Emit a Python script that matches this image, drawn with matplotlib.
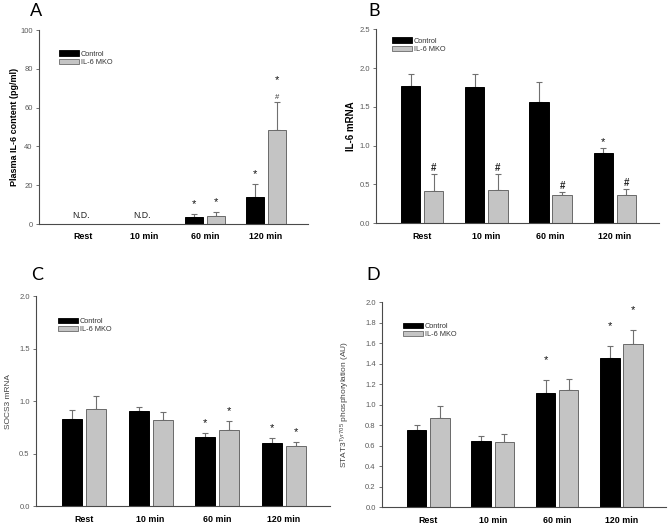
import numpy as np
import matplotlib
matplotlib.use("Agg")
import matplotlib.pyplot as plt
from matplotlib.patches import Patch

plt.rcParams['font.family'] = ['Liberation Sans', 'DejaVu Sans']
plt.rcParams['mathtext.default'] = 'regular'

categories = ["Rest", "10 min", "60 min", "120 min"]
series_names = ["Control", "IL-6 MKO"]

# Panel A: plasma IL-6 (pg/ml); NaN = not detected
a_ctrl = [np.nan, np.nan, 3.8, 14.1]
a_ctrl_se = [np.nan, np.nan, 1.4, 6.7]
a_mko = [np.nan, np.nan, 4.3, 48.6]
a_mko_se = [np.nan, np.nan, 2.1, 14.4]
a_ctrl_sig = ["", "", "*", "*"]
a_mko_sig = ["", "", "*", "#*"]

# Panel B: IL-6 mRNA
b_ctrl = [1.77, 1.76, 1.565, 0.90]
b_ctrl_se = [0.16, 0.17, 0.26, 0.075]
b_mko = [0.41, 0.43, 0.37, 0.37]
b_mko_se = [0.23, 0.21, 0.03, 0.07]
b_ctrl_sig = ["", "", "", "*"]
b_mko_sig = ["#", "#", "#", "#"]

# Panel C: SOCS3 mRNA
c_ctrl = [0.83, 0.905, 0.66, 0.60]
c_ctrl_se = [0.09, 0.045, 0.035, 0.048]
c_mko = [0.93, 0.82, 0.727, 0.575]
c_mko_se = [0.12, 0.075, 0.083, 0.035]
c_ctrl_sig = ["", "", "*", "*"]
c_mko_sig = ["", "", "*", "*"]

# Panel D: STAT3 Tyr705 phosphorylation (AU)
d_ctrl = [0.751, 0.647, 1.119, 1.46]
d_ctrl_se = [0.049, 0.053, 0.12, 0.111]
d_mko = [0.868, 0.634, 1.141, 1.593]
d_mko_se = [0.117, 0.078, 0.108, 0.134]
d_ctrl_sig = ["", "", "*", "*"]
d_mko_sig = ["", "", "", "*"]

fig = plt.figure(figsize=(6.7, 5.26), dpi=100)

CTRL_COLOR = "black"
MKO_COLOR = "#c4c4c4"
EDGE_GREY = "#6a6a6a"
TICK_GREY = "#5a5a5a"

panels = [
    dict(letter="A", rect=[0.0582, 0.5741, 0.4015, 0.3688], ylim=(0, 100), ticks=np.arange(0, 101, 20),
         fmt="{:.0f}", ylabel="Plasma IL-6 content (pg/ml)", ylabel_bold=True, ylabel_size=6.5, ylabel_x=-0.09,
         ctrl=a_ctrl, ctrl_se=a_ctrl_se, mko=a_mko, mko_se=a_mko_se, csig=a_ctrl_sig, msig=a_mko_sig,
         sig_off=0.05, letter_xy=(36, 11), leg_xy=(59, 50.5), nd=True),
    dict(letter="B", rect=[0.5612, 0.5755, 0.4224, 0.3688], ylim=(0, 2.5), ticks=np.arange(0, 2.51, 0.5),
         fmt="{:.1f}", ylabel="IL-6 mRNA", ylabel_bold=True, ylabel_size=7, ylabel_x=-0.09,
         ctrl=b_ctrl, ctrl_se=b_ctrl_se, mko=b_mko, mko_se=b_mko_se, csig=b_ctrl_sig, msig=b_mko_sig,
         sig_off=0.03, letter_xy=(374, 10.5), leg_xy=(392, 37.5), nd=False),
    dict(letter="C", rect=[0.0537, 0.0375, 0.4388, 0.3992], ylim=(0, 2.0), ticks=np.arange(0, 2.01, 0.5),
         fmt="{:.1f}", ylabel="SOCS3 mRNA", ylabel_bold=False, ylabel_size=6, ylabel_x=-0.095,
         ctrl=c_ctrl, ctrl_se=c_ctrl_se, mko=c_mko, mko_se=c_mko_se, csig=c_ctrl_sig, msig=c_mko_sig,
         sig_off=0.05, letter_xy=(37, 275), leg_xy=(58, 317.5), nd=False),
    dict(letter="D", rect=[0.5701, 0.0355, 0.4239, 0.3897], ylim=(0, 2.0), ticks=np.arange(0, 2.01, 0.2),
         fmt="{:.1f}", ylabel="STAT3$^{Tyr705}$ phosphorylation (AU)", ylabel_bold=False, ylabel_size=6,
         ylabel_x=-0.13,
         ctrl=d_ctrl, ctrl_se=d_ctrl_se, mko=d_mko, mko_se=d_mko_se, csig=d_ctrl_sig, msig=d_mko_sig,
         sig_off=0.10, letter_xy=(373, 275.5), leg_xy=(403, 322.5), nd=False),
]

W, H = 670.0, 526.0
x = np.arange(len(categories))
bw = 0.30
off = 0.18

for p in panels:
    ax = fig.add_axes(p["rect"])
    ymin, ymax = p["ylim"]
    rng = ymax - ymin
    for vals, ses, sigs, xpos, face, edge in [
        (p["ctrl"], p["ctrl_se"], p["csig"], x - off, CTRL_COLOR, "black"),
        (p["mko"], p["mko_se"], p["msig"], x + off, MKO_COLOR, EDGE_GREY),
    ]:
        vals = np.array(vals, dtype=float)
        ses = np.array(ses, dtype=float)
        ax.bar(xpos, np.nan_to_num(vals), width=bw, color=face, edgecolor=edge, linewidth=0.7, zorder=2)
        ax.errorbar(xpos, vals, yerr=[np.zeros_like(ses), ses], fmt="none", ecolor="#707070",
                    elinewidth=0.8, capsize=2.5, capthick=0.8, zorder=1)
        for xi, v, s, sg in zip(xpos, vals, ses, sigs):
            if not sg or np.isnan(v):
                continue
            top = v + s
            if sg == "#*":
                ax.text(xi, top + 0.022 * rng, "#", ha="center", va="center", fontsize=5.5, color="#333333")
                ax.text(xi, top + 0.11 * rng, "*", ha="center", va="center", fontsize=8, color="#111111")
            elif sg == "#":
                ax.text(xi, top + p["sig_off"] * rng, "#", ha="center", va="center", fontsize=7,
                        fontweight="bold", color="#222222")
            else:
                ax.text(xi, top + p["sig_off"] * rng, "*", ha="center", va="center", fontsize=8,
                        color="#111111")
    if p["nd"]:
        for xi, v in zip(x, p["ctrl"]):
            if np.isnan(v):
                ax.text(xi - 0.03, ymin + 0.045 * rng, "N.D.", ha="center", va="center", fontsize=6.3,
                        color="#222222")
    ax.set_xlim(-0.72, 3.69)
    ax.set_ylim(ymin, ymax)
    ax.set_yticks(p["ticks"])
    ax.set_yticklabels([p["fmt"].format(t) for t in p["ticks"]], fontsize=5.5, color=TICK_GREY)
    ax.set_xticks(x)
    ax.set_xticklabels(categories, fontsize=6.4, fontweight="bold")
    ax.tick_params(axis="x", length=0, pad=6)
    ax.tick_params(axis="y", length=2.5, width=0.6, color=TICK_GREY, pad=2)
    for side in ["top", "right"]:
        ax.spines[side].set_visible(False)
    for side in ["left", "bottom"]:
        ax.spines[side].set_color("#4a4a4a")
        ax.spines[side].set_linewidth(0.8)
    ax.set_ylabel(p["ylabel"], fontsize=p["ylabel_size"],
                  fontweight="bold" if p["ylabel_bold"] else "normal", va="center",
                  color="black" if p["ylabel_bold"] else "#444444")
    ax.yaxis.set_label_coords(p["ylabel_x"], 0.5)
    lx, ly = p["leg_xy"]
    handles = [Patch(facecolor=CTRL_COLOR, edgecolor="black", linewidth=0.6, label=series_names[0]),
               Patch(facecolor=MKO_COLOR, edgecolor=EDGE_GREY, linewidth=0.6, label=series_names[1])]
    leg = ax.legend(handles=handles, loc="upper left", bbox_to_anchor=(lx / W, 1 - ly / H),
                    bbox_transform=fig.transFigure, frameon=False, fontsize=5.3, handlelength=2.7,
                    handleheight=0.7, handletextpad=0.3, labelspacing=0.15, borderpad=0, borderaxespad=0)
    for t in leg.get_texts():
        t.set_color("#333333")
    lx2, ly2 = p["letter_xy"]
    fig.text(lx2 / W, 1 - ly2 / H, p["letter"], ha="center", va="center", fontsize=13,
             family=["Lato", "DejaVu Sans"])

fig.savefig("out.png", dpi=100)
